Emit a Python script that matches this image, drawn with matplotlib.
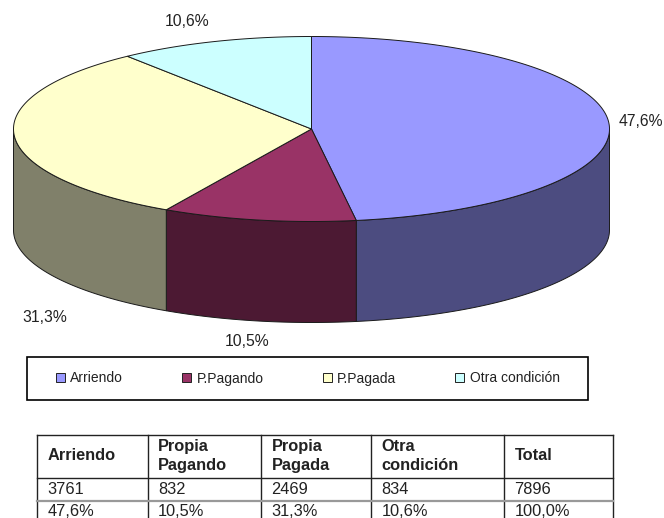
import matplotlib
matplotlib.use("Agg")
import matplotlib.pyplot as plt
import numpy as np
from matplotlib.patches import Patch, Rectangle

categories = ["Arriendo", "P.Pagando", "P.Pagada", "Otra condición"]
shares = [47.6, 10.5, 31.3, 10.6]
pie_labels = ["47,6%", "10,5%", "31,3%", "10,6%"]
table_header = ["Arriendo", "Propia\nPagando", "Propia\nPagada", "Otra\ncondición", "Total"]
table_counts = ["3761", "832", "2469", "834", "7896"]
table_pcts = ["47,6%", "10,5%", "31,3%", "10,6%", "100,0%"]

top_colors = ["#9999FF", "#993366", "#FFFFCC", "#CCFFFF"]
wall_colors = ["#4C4C80", "#4C1933", "#80806A", "#70807F"]

# pie geometry, in pixels of the 664x518 picture
CX, CY, RX, RY, DEPTH = 311.5, 129, 298, 92.5, 101
LABEL_POS = [(641, 121), (247, 342), (45, 317), (187, 22)]
COL_X = [37, 147.5, 261, 371, 504, 613]
ROW_Y = [435, 478, 501, 518]
SANS = "Liberation Sans"


def rim(a0, a1):
    """Points on the top ellipse, angles in degrees clockwise from 12 o'clock."""
    t = np.radians(np.linspace(a0, a1, max(int(abs(a1 - a0)) * 2, 2)))
    return CX + RX * np.sin(t), CY - RY * np.cos(t)


fig = plt.figure(figsize=(6.64, 5.18), dpi=100)
ax = fig.add_axes([0, 0, 1, 1])
ax.set_xlim(0, 664)
ax.set_ylim(518, 0)
ax.axis("off")

edges = np.concatenate([[0], np.cumsum(shares)]) * 3.6
for a0, a1, top, wall in zip(edges[:-1], edges[1:], top_colors, wall_colors):
    # side wall: only the part of the rim facing the viewer (90..270 deg)
    w0, w1 = max(a0, 90), min(a1, 270)
    if w1 > w0:
        x, y = rim(w0, w1)
        ax.fill(np.r_[x, x[::-1]], np.r_[y, y[::-1] + DEPTH], fc=wall, ec="#1a1a1a", lw=0.7)
    x, y = rim(a0, a1)
    ax.fill(np.r_[CX, x], np.r_[CY, y], fc=top, ec="#1a1a1a", lw=0.7)

for (lx, ly), txt in zip(LABEL_POS, pie_labels):
    ax.text(lx, ly, txt, ha="center", va="center", fontsize=11.3, family=SANS, color="#222222")

# legend box is drawn apart: the side padding is wider than the top/bottom one
ax.add_patch(Rectangle((27, 357), 561, 43, fc="white", ec="black", lw=1.2))
handles = [Patch(fc=c, ec="#222222", lw=0.7) for c in top_colors]
ax.legend(handles, categories, ncol=4, loc="center left", frameon=False,
          bbox_to_anchor=(55.5 / 664, 1 - 378.5 / 518), borderaxespad=0, borderpad=0,
          prop={"family": SANS, "size": 10}, handlelength=0.65, handleheight=0.65,
          handletextpad=0.4, columnspacing=4.25, labelcolor="#222222")

# table, cut by the bottom of the picture as in the source
for x in COL_X:
    ax.plot([x, x], [ROW_Y[0], ROW_Y[-1]], color="#222222", lw=1)
ax.plot([COL_X[0], COL_X[-1]], [ROW_Y[0]] * 2, color="#222222", lw=1)
ax.plot([COL_X[0], COL_X[-1]], [ROW_Y[1]] * 2, color="#222222", lw=1)
ax.plot([COL_X[0], COL_X[-1]], [ROW_Y[2]] * 2, color="#999999", lw=1.6)
for i in range(5):
    tx = COL_X[i] + 10.5
    ax.text(tx, (ROW_Y[0] + ROW_Y[1]) / 2 - 0.5, table_header[i], ha="left", va="center",
            fontsize=11.8, family=SANS, weight="bold", color="#222222", linespacing=1.35)
    ax.text(tx, (ROW_Y[1] + ROW_Y[2]) / 2 - 0.5, table_counts[i], ha="left", va="center",
            fontsize=11.8, family=SANS, color="#222222")
    ax.text(tx, ROW_Y[2] + 10.5, table_pcts[i], ha="left", va="center",
            fontsize=11.8, family=SANS, color="#222222")

fig.savefig("out.png", dpi=100)
